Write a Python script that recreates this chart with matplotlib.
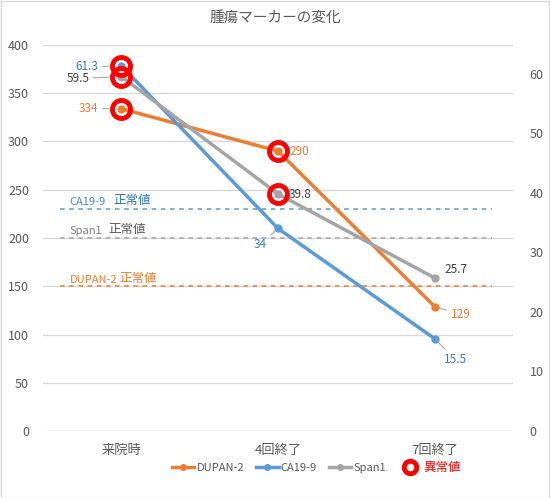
import matplotlib
matplotlib.use("Agg")
import matplotlib.pyplot as plt
from matplotlib.lines import Line2D
from matplotlib.patches import Rectangle

plt.rcParams['font.family'] = ['Noto Sans CJK JP', 'DejaVu Sans']

categories = ["来院時", "4回終了", "7回終了"]
dupan2 = [334, 290, 129]
ca199 = [61.3, 34, 15.5]
span1 = [59.5, 39.8, 25.7]

# abnormal flags (red circles)
dupan2_abn = [True, True, False]
ca199_abn = [True, False, False]
span1_abn = [True, True, False]

# normal reference lines (left axis values)
ref_lines = [("CA19-9", "正常値", 230), ("Span1", "正常値", 200), ("DUPAN-2", "正常値", 150)]

left_ticks = [0, 50, 100, 150, 200, 250, 300, 350, 400]
right_ticks = [0, 10, 20, 30, 40, 50, 60]

ORANGE = "#ED7D31"
BLUE = "#5B9BD5"
GRAY = "#A5A5A5"
DBLUE = "#2E75B6"
DARK = "#404040"
TICK = "#595959"

fig = plt.figure(figsize=(5.5, 4.98), dpi=100)
fig.patches.append(Rectangle((0.001, 0.001), 0.997, 0.997, transform=fig.transFigure,
                             fill=False, edgecolor="#D9D9D9", lw=1))
ax = fig.add_axes([43/550, 1-431/498, 470/550, 386/498])
ax2 = ax.twinx()

x = list(range(len(categories)))
ax.set_xlim(-0.5, 2.5)
ax.set_ylim(0, 400)
ax2.set_ylim(0, 64.8)
ax.set_yticks(left_ticks)
ax2.set_yticks(right_ticks)
ax.set_xticks(x)
ax.set_xticklabels(categories)
ax.grid(axis='y', color="#D9D9D9", lw=1)
ax.set_axisbelow(True)
for a in (ax, ax2):
    for s in a.spines.values():
        s.set_visible(False)
    a.tick_params(length=0, labelsize=9, colors=TICK)
ax.tick_params(axis='y', pad=10)
ax2.tick_params(axis='y', pad=12)
ax.tick_params(axis='x', pad=9, labelsize=9.5)

# reference lines
ref_colors = [BLUE, GRAY, ORANGE]
for (name, suffix, val), lc in zip(ref_lines, ref_colors):
    ax.axhline(val, xmin=17/470, xmax=449/470, color=lc, ls=(0, (3, 3)), lw=1.1, zorder=1)

ax.text(-0.33, 232, "CA19-9", color="#4A86C5", fontsize=8, va='bottom', ha='left')
ax.text(-0.05, 232, "正常値", color=DBLUE, fontsize=9, va='bottom', ha='left')
ax.text(-0.33, 202, "Span1", color="#7F7F7F", fontsize=8, va='bottom', ha='left')
ax.text(-0.08, 202, "正常値", color="#595959", fontsize=9, va='bottom', ha='left')
ax.text(-0.33, 151, "DUPAN-2", color=ORANGE, fontsize=8, va='bottom', ha='left')
ax.text(-0.015, 151, "正常値", color=ORANGE, fontsize=9, va='bottom', ha='left')

# series
ax.plot(x, dupan2, color=ORANGE, lw=2.5, marker='o', ms=5, zorder=3)
ax2.plot(x, ca199, color=BLUE, lw=2.5, marker='o', ms=5, zorder=3)
ax2.plot(x, span1, color=GRAY, lw=2.5, marker='o', ms=5, zorder=3)

def circles(a, xs, ys, flags):
    for xi, yi, f in zip(xs, ys, flags):
        if f:
            a.plot([xi], [yi], marker='o', ms=13, mfc='none', mec='#FF0000', mew=3.5, zorder=5)

circles(ax, x, dupan2, dupan2_abn)
circles(ax2, x, ca199, ca199_abn)
circles(ax2, x, span1, span1_abn)

lead = dict(arrowstyle='-', color='#A6A6A6', lw=0.8, shrinkA=1, shrinkB=9)

def lab(a, xi, yi, txt, color, dx, dy, ha, leader=False, shrinkB=9):
    ap = None
    if leader:
        ap = dict(lead)
        ap['shrinkB'] = shrinkB
    a.annotate(txt, (xi, yi), xytext=(dx*0.72, -dy*0.72), textcoords='offset points',
               color=color, fontsize=8.5, ha=ha, va='center',
               arrowprops=ap, zorder=6)

# offsets in pixels (dx right, dy down)
lab(ax2, 0, ca199[0], "61.3", "#3B7DC4", -23, 1, 'right', True)
lab(ax2, 0, span1[0], "59.5", DARK, -32, 2, 'right', True)
lab(ax, 0, dupan2[0], "334", ORANGE, -23, 0, 'right', True)
lab(ax, 1, dupan2[1], "290", ORANGE, 11, 0, 'left')
lab(ax2, 1, span1[1], "39.8", DARK, 11, 1, 'left')
lab(ax2, 1, ca199[1], "34", "#3B7DC4", -11, 16, 'right', True, 3)
lab(ax2, 2, span1[2], "25.7", DARK, 10, -8, 'left')
lab(ax, 2, dupan2[2], "129", ORANGE, 16, 8, 'left', True, 3)
lab(ax2, 2, ca199[2], "15.5", "#3B7DC4", 9, 21, 'left', True, 3)

# title
fig.text(0.5, 1-18/498, "腫瘍マーカーの変化", ha='center', va='center', fontsize=10.5, color=TICK)

# legend
handles = [
    Line2D([], [], color=ORANGE, lw=2.5, marker='o', ms=4),
    Line2D([], [], color=BLUE, lw=2.5, marker='o', ms=4),
    Line2D([], [], color=GRAY, lw=2.5, marker='o', ms=4),
    Line2D([], [], ls='none', marker='o', ms=9, mfc='none', mec='#FF0000', mew=3.5),
]
leg = fig.legend(handles, ["DUPAN-2", "CA19-9", "Span1", "異常値"], loc='center',
                 bbox_to_anchor=(0.575, 1-467/498), ncol=4, frameon=False, fontsize=8,
                 handlelength=2.0, handletextpad=0.2, columnspacing=1.1)
for t in leg.get_texts():
    t.set_color(TICK)
leg.get_texts()[3].set_color('#FF0000')
leg.get_texts()[3].set_fontsize(9)

fig.savefig("out.png", dpi=100)
